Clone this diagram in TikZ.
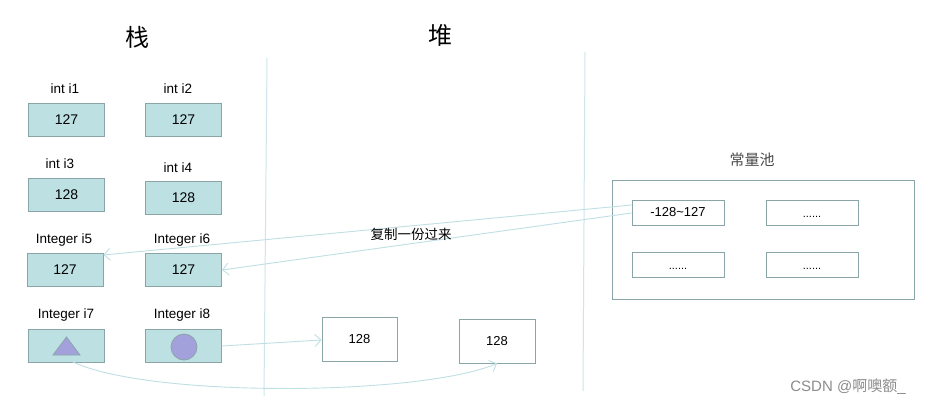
\documentclass[tikz,border=0pt]{standalone}
\usepackage{fontspec}
\setmainfont{Liberation Sans}
\newfontfamily\cjk{Noto Sans CJK SC}
\usetikzlibrary{arrows.meta}
\definecolor{boxfill}{HTML}{BDE0E3}
\definecolor{boxline}{HTML}{8AA5A8}
\definecolor{conn}{HTML}{BFDFE4}
\definecolor{divline}{HTML}{CFE5E9}
\definecolor{shapefill}{HTML}{A3A1DC}
\tikzset{
  stackbox/.style={draw=boxline, fill=boxfill, line width=0.9pt, minimum width=76pt, minimum height=33pt, inner sep=0pt, font=\fontsize{14}{16}\selectfont},
  plainbox/.style={draw=boxline, fill=white, line width=0.9pt, inner sep=0pt, font=\fontsize{13}{15}\selectfont},
  vlabel/.style={font=\fontsize{13.5}{15}\selectfont, inner sep=0pt},
  dotlabel/.style={font=\fontsize{11}{12}\selectfont, inner sep=0pt, yshift=-4pt},
  conn/.style={draw=conn, line width=0.9pt, -{Straight Barb[length=6pt,width=12pt]}},
}
\begin{document}
\begin{tikzpicture}[x=1pt,y=-1pt]
\useasboundingbox[fill=white] (0,0) rectangle (933,406);
% titles
\node[font=\cjk\fontsize{24}{26}\selectfont] (tstack) at (137,37) {栈};
\node[font=\cjk\fontsize{24}{26}\selectfont] (theap) at (440,35) {堆};
% divider lines
\coordinate (d1a) at (267,58); \coordinate (d1b) at (264,396);
\coordinate (d2a) at (585,52); \coordinate (d2b) at (583,391);
\draw[divline, line width=1pt] (d1a) -- (d1b);
\draw[divline, line width=1pt] (d2a) -- (d2b);
% stack boxes
\node[vlabel] (l1) at (65,89) {int i1};
\node[stackbox] (b1) at (66.5,119.5) {127};
\node[vlabel] (l2) at (178,89) {int i2};
\node[stackbox] (b2) at (183.5,119.5) {127};
\node[vlabel] (l3) at (60,164) {int i3};
\node[stackbox] (b3) at (66.5,195) {128};
\node[vlabel] (l4) at (178,168) {int i4};
\node[stackbox] (b4) at (183.5,198) {128};
\node[vlabel] (l5) at (64,240) {Integer i5};
\node[stackbox] (b5) at (65,270) {127};
\node[vlabel] (l6) at (182,240) {Integer i6};
\node[stackbox] (b6) at (183.5,270) {127};
\node[vlabel] (l7) at (66,315) {Integer i7};
\node[stackbox] (b7) at (66.5,345.5) {};
\node[vlabel] (l8) at (182,315) {Integer i8};
\node[stackbox] (b8) at (183.5,345.5) {};
% shapes in i7, i8
\draw[boxline, fill=shapefill, line width=0.8pt] (53,355) -- (80,355) -- (66.5,337) -- cycle;
\node[circle, draw=boxline, fill=shapefill, line width=0.8pt, minimum size=26pt, inner sep=0pt] (circ) at (184,347) {};
% heap boxes
\node[plainbox, minimum width=75pt, minimum height=44pt] (h1) at (359.5,339) {128};
\node[plainbox, minimum width=76pt, minimum height=44pt] (h2) at (497,341) {128};
% constant pool
\node[font=\cjk\fontsize{15}{17}\selectfont, text=black!70] (tpool) at (752,160) {常量池};
\node[draw=boxline, line width=0.9pt, minimum width=302pt, minimum height=119pt, inner sep=0pt] (pool) at (763,239.5) {};
\node[plainbox, minimum width=92pt, minimum height=25pt] (p1) at (678,212.5) {-128\textasciitilde 127};
\node[plainbox, minimum width=92pt, minimum height=25pt] (p2) at (812,212.5) {};
\node[plainbox, minimum width=92pt, minimum height=25pt] (p3) at (678,264.5) {};
\node[plainbox, minimum width=92pt, minimum height=25pt] (p4) at (812,264.5) {};
\node[dotlabel] (t2) at (p2) {......};
\node[dotlabel] (t3) at (p3) {......};
\node[dotlabel] (t4) at (p4) {......};
% connectors
\draw[conn] (p1.west |- 0,205) -- (b5.east |- 0,255);
\draw[conn] (p1.west |- 0,213) -- (b6.east |- 0,270);
\node[font=\cjk\fontsize{13.5}{15}\selectfont] (copy) at (411,234) {复制一份过来};
\draw[conn] (b8.east |- 0,346) -- (h1.west |- 0,340);
\draw[conn] (73,362) .. controls (150,398) and (420,396) .. (h2.south);
% watermark
\node[font=\fontsize{15}{17}\selectfont, text=black!45] (wm) at (848,387) {CSDN @{\cjk 啊噢额}\_};
\end{tikzpicture}
\end{document}
